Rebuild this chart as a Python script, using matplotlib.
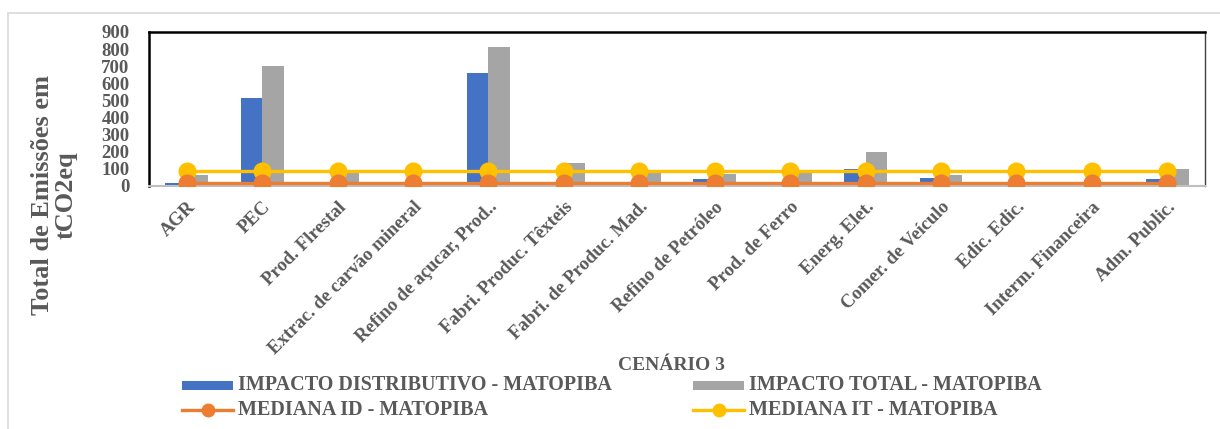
import matplotlib
matplotlib.use("Agg")
import matplotlib.pyplot as plt
from matplotlib.lines import Line2D
from matplotlib.patches import Rectangle
import numpy as np

categories = ["AGR", "PEC", "Prod. Flrestal", "Extrac. de carvão mineral",
              "Refino de açucar, Prod..", "Fabri. Produc. Têxteis",
              "Fabri. de Produc. Mad.", "Refino de Petróleo", "Prod. de Ferro",
              "Energ. Elet.", "Comer. de Veículo", "Edic. Edic.",
              "Interm. Financeira", "Adm. Public."]
impacto_distributivo = [15, 515, 8, 2, 662, 8, 6, 39, 6, 100, 47, 4, 4, 43]
impacto_total = [65, 703, 80, 3, 810, 133, 80, 68, 80, 197, 66, 12, 14, 100]
mediana_id = [20] * len(categories)
mediana_it = [88] * len(categories)
y_ticks = [0, 100, 200, 300, 400, 500, 600, 700, 800, 900]
legend_labels = ["IMPACTO DISTRIBUTIVO - MATOPIBA", "IMPACTO TOTAL - MATOPIBA",
                 "MEDIANA ID - MATOPIBA", "MEDIANA IT - MATOPIBA"]

BLUE = "#4472C4"
GRAY = "#A5A5A5"
ORANGE = "#ED7D31"
YELLOW = "#FFC000"
TXT = "#595959"
FONT = ["Liberation Serif", "DejaVu Serif"]

plt.rcParams["font.family"] = FONT
plt.rcParams["font.weight"] = "bold"

W, H = 1220, 429
fig = plt.figure(figsize=(12.2, 4.29), dpi=100)


def fx(px):
    return px / W


def fy(py):
    return 1 - py / H


# outer chart frame
fig.patches.append(Rectangle((fx(8), -0.01), 1.0, fy(13) + 0.01,
                             transform=fig.transFigure, fill=False,
                             edgecolor="#D9D9D9", linewidth=1.2))

ax = fig.add_axes([fx(149), fy(186), fx(1205 - 149), (186 - 32) / H])
x = np.arange(len(categories))
w = 0.285
ax.bar(x - w / 2, impacto_distributivo, width=w, color=BLUE, zorder=2)
ax.bar(x + w / 2, impacto_total, width=w, color=GRAY, zorder=2)
ax.plot(x, mediana_id, color=ORANGE, lw=2.4, marker="o", ms=12, mec=ORANGE, zorder=4)
ax.plot(x, mediana_it, color=YELLOW, lw=2.4, marker="o", ms=12, mec=YELLOW, zorder=3)

ax.set_xlim(-0.5, len(categories) - 0.5)
ax.set_ylim(0, 900)
ax.set_yticks(y_ticks)
ax.set_yticklabels([str(v) for v in y_ticks], fontsize=13.5, color=TXT, fontweight="bold")
ax.set_xticks(x)
ax.set_xticklabels(categories, rotation=45, ha="right", va="top",
                   rotation_mode="anchor", fontsize=13.5, color=TXT, fontweight="bold")
ax.tick_params(axis="y", length=0, pad=14)
ax.tick_params(axis="x", length=0, pad=9)
for s in ["top", "left"]:
    ax.spines[s].set_color("black")
    ax.spines[s].set_linewidth(1.8)
ax.spines["right"].set_color("#404040")
ax.spines["right"].set_linewidth(1.0)
ax.spines["bottom"].set_color("#BFBFBF")
ax.spines["bottom"].set_linewidth(1.5)

fig.text(fx(54.5), fy(195), "Total de Emissões em\ntCO2eq", rotation=90,
         ha="center", va="center", fontsize=19, color=TXT, fontweight="bold",
         linespacing=1.0)
fig.text(fx(671), fy(366), "CENÁRIO 3", ha="center", va="center",
         fontsize=14, color=TXT, fontweight="bold")

# legend (drawn manually: two columns, two rows)
col_x = [182, 693]
row_y = [385.5, 410]
handle_len = 51
kinds = [("bar", BLUE), ("bar", GRAY), ("line", ORANGE), ("line", YELLOW)]
for i, (lab, (kind, col)) in enumerate(zip(legend_labels, kinds)):
    cx = col_x[i % 2]
    cy = row_y[i // 2]
    if kind == "bar":
        fig.patches.append(Rectangle((fx(cx), fy(cy + 4.5)), fx(handle_len), 9 / H,
                                     transform=fig.transFigure, color=col, lw=0))
    else:
        fig.lines.append(Line2D([fx(cx), fx(cx + handle_len)], [fy(cy), fy(cy)],
                                transform=fig.transFigure, color=col, lw=2.4))
        fig.lines.append(Line2D([fx(cx + handle_len / 2)], [fy(cy)],
                                transform=fig.transFigure, color=col, marker="o",
                                ms=9, mec=col, lw=0))
    fig.text(fx(cx + handle_len + 5), fy(cy), lab, ha="left", va="center",
             fontsize=14.5, color=TXT, fontweight="bold")

fig.savefig("out.png", dpi=100)
